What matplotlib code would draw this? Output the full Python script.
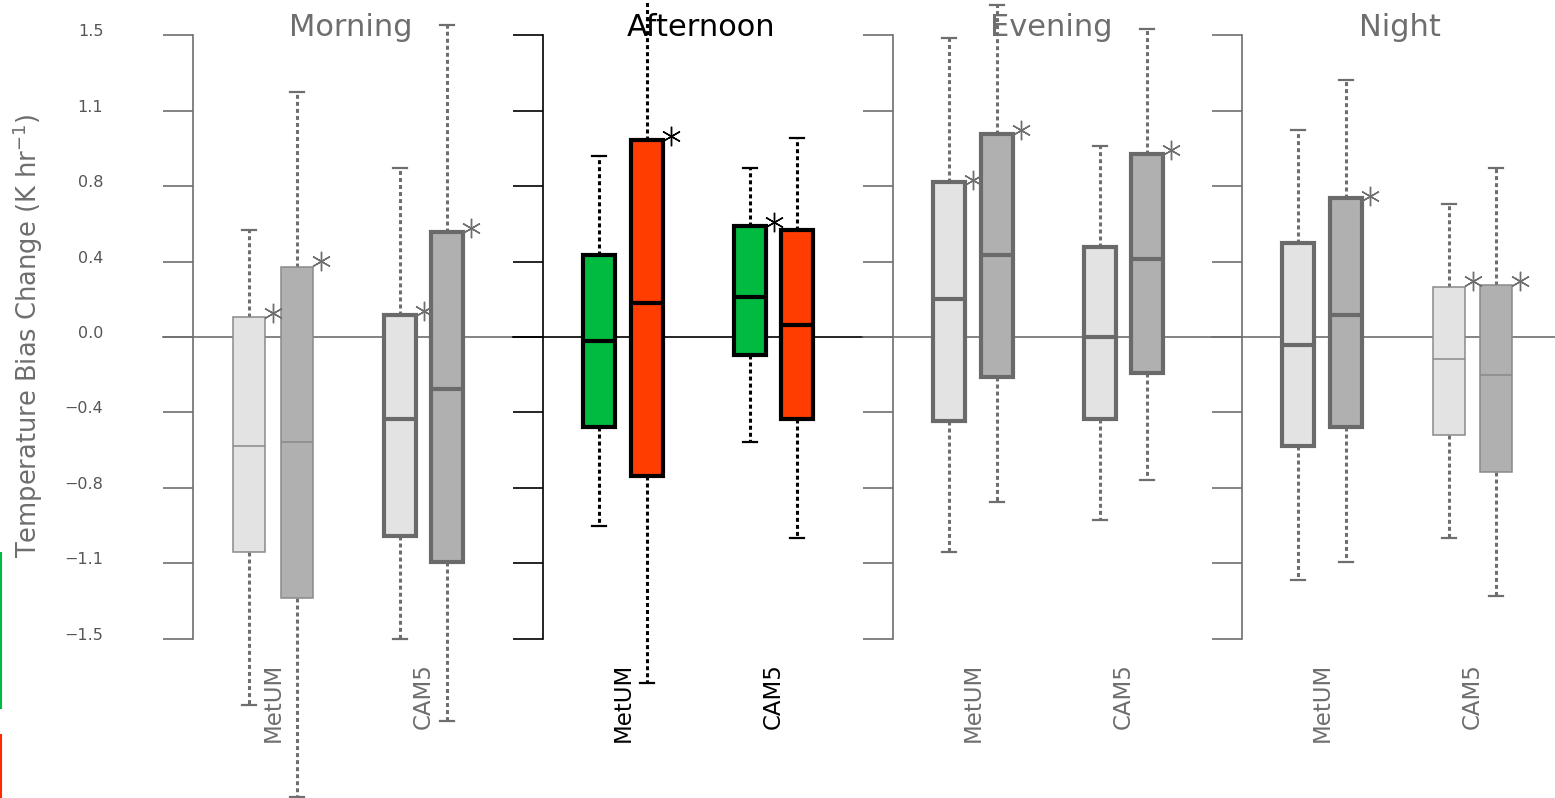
import matplotlib.pyplot as plt
import numpy as np
from matplotlib.lines import Line2D
from matplotlib.transforms import ScaledTranslation

periods = ["Morning", "Afternoon", "Evening", "Night"]
models = ["MetUM", "CAM5"]

# each row: MetUM (run 1, run 2), CAM5 (run 1, run 2)
whis_hi = [
    [0.53, 1.22, 0.84, 1.55],
    [0.90, 1.80, 0.84, 0.99],
    [1.49, 1.65, 0.95, 1.53],
    [1.03, 1.28, 0.66, 0.84],
]
q3 = [
    [0.10, 0.35, 0.11, 0.52],
    [0.41, 0.98, 0.55, 0.53],
    [0.77, 1.01, 0.45, 0.91],
    [0.47, 0.69, 0.25, 0.26],
]
med = [
    [-0.54, -0.52, -0.41, -0.26],
    [-0.02, 0.17, 0.20, 0.06],
    [0.19, 0.41, 0.00, 0.39],
    [-0.04, 0.11, -0.11, -0.19],
]
q1 = [
    [-1.07, -1.30, -0.99, -1.12],
    [-0.45, -0.69, -0.09, -0.41],
    [-0.42, -0.20, -0.41, -0.18],
    [-0.54, -0.45, -0.49, -0.67],
]
whis_lo = [
    [-1.83, -2.29, -1.50, -1.91],
    [-0.94, -1.72, -0.52, -1.00],
    [-1.07, -0.82, -0.91, -0.71],
    [-1.21, -1.12, -1.00, -1.29],
]
stars = [
    [0.12, 0.38, 0.13, 0.54],
    [None, 1.00, 0.57, None],
    [0.78, 1.03, None, 0.93],
    [None, 0.70, 0.28, 0.28],
]
yticks = np.linspace(-1.5, 1.5, 9)
ytick_labels = ["\u22121.5", "\u22121.1", "\u22120.8", "\u22120.4", "0.0",
                "0.4", "0.8", "1.1", "1.5"]

# layout (pixels)
W, H = 1555, 798
spine_px = [193, 543, 893, 1242]
box_off = [56, 104, 207, 254]
group_off = [80, 230.5]
tick_len = 30
ylo, yhi = (337 - H) / 201, 337 / 201

thick = [[False, False, True, True], [True] * 4, [True] * 4, [True, True, False, False]]
gray_fill = ["#e3e3e3", "#b0b0b0", "#e3e3e3", "#b0b0b0"]
color_fill = ["#00bb40", "#ff3d00", "#00bb40", "#ff3d00"]
GRAY = "#6e6e6e"

plt.rcParams["font.family"] = ["DejaVu Sans"]
fig = plt.figure(figsize=(W / 100, H / 100), dpi=100)

for p, name in enumerate(periods):
    hot = name == "Afternoon"
    fg = "black" if hot else GRAY
    fills = color_fill if hot else gray_fill
    right = spine_px[p + 1] if p < 3 else W
    wpx = right - spine_px[p]

    ax = fig.add_axes([spine_px[p] / W, 0, wpx / W, 1])
    ax.set_xlim(0, wpx)
    ax.set_ylim(ylo, yhi)
    ax.patch.set_visible(False)
    for s in ["top", "right", "bottom"]:
        ax.spines[s].set_visible(False)
    ax.spines["left"].set_bounds(-1.5, 1.5)
    ax.spines["left"].set_color(fg)
    ax.spines["left"].set_linewidth(1.2)
    ax.set_xticks([])
    ax.set_yticks(yticks)
    ax.tick_params(axis="y", length=21.6, width=1.2, color=fg, direction="out", pad=43)
    if p == 0:
        ax.set_yticklabels(ytick_labels, fontsize=11.5, color="#555555")
        shift = ScaledTranslation(0, 5 / 100, fig.dpi_scale_trans)
        for lab in ax.get_yticklabels():
            lab.set_transform(lab.get_transform() + shift)
    else:
        ax.set_yticklabels([])

    xmax = (wpx - tick_len) / wpx if p < 3 else 1
    ax.axhline(0, xmin=-tick_len / wpx, xmax=xmax, color=fg, lw=1.2,
               clip_on=False, zorder=0)

    stats = [dict(med=med[p][i], q1=q1[p][i], q3=q3[p][i],
                  whislo=whis_lo[p][i], whishi=whis_hi[p][i], fliers=[])
             for i in range(4)]
    art = ax.bxp(stats, positions=box_off, widths=32, patch_artist=True,
                 showfliers=False, capwidths=14, manage_ticks=False)

    for i in range(4):
        if thick[p][i]:
            ec, lw = ("black" if hot else "#6a6a6a"), 3.0
        else:
            ec, lw = "#8a8a8a", 1.1
        art["boxes"][i].set(facecolor=fills[i], edgecolor=ec, linewidth=lw,
                            joinstyle="miter", zorder=3)
        art["medians"][i].set(color=ec, linewidth=lw, solid_capstyle="butt", zorder=4)
        for k in (2 * i, 2 * i + 1):
            art["whiskers"][k].set(color=fg, linewidth=2.2, linestyle=(0, (1.3, 1.0)),
                                   zorder=2)
            art["caps"][k].set(color=fg, linewidth=1.6, zorder=2)
        if stars[p][i] is not None:
            ax.plot(box_off[i] + 24, stars[p][i], marker=(6, 2, 0), ms=14, mew=1.0,
                    mec=fg, linestyle="none", clip_on=False, zorder=5)

    for g, m in enumerate(models):
        ax.text(group_off[g], -1.622, m, rotation=90, ha="center", va="top",
                fontsize=16.5, color=fg)
    ax.text(158, 1.5, name, ha="center", va="baseline", fontsize=22, color=fg)

fig.text(28 / W, 1 - 336 / H, r"Temperature Bias Change (K hr$^{-1}$)", rotation=90,
         ha="center", va="center", fontsize=18.5, color=GRAY)

# cropped legend swatches at the left edge
fig.add_artist(Line2D([1 / W, 1 / W], [1 - 553 / H, 1 - 708 / H], color="#00bb40",
                      lw=1.5, transform=fig.transFigure))
fig.add_artist(Line2D([1 / W, 1 / W], [1 - 735 / H, 0], color="#ff2a00",
                      lw=1.5, transform=fig.transFigure))

fig.savefig("out.png", dpi=100)
